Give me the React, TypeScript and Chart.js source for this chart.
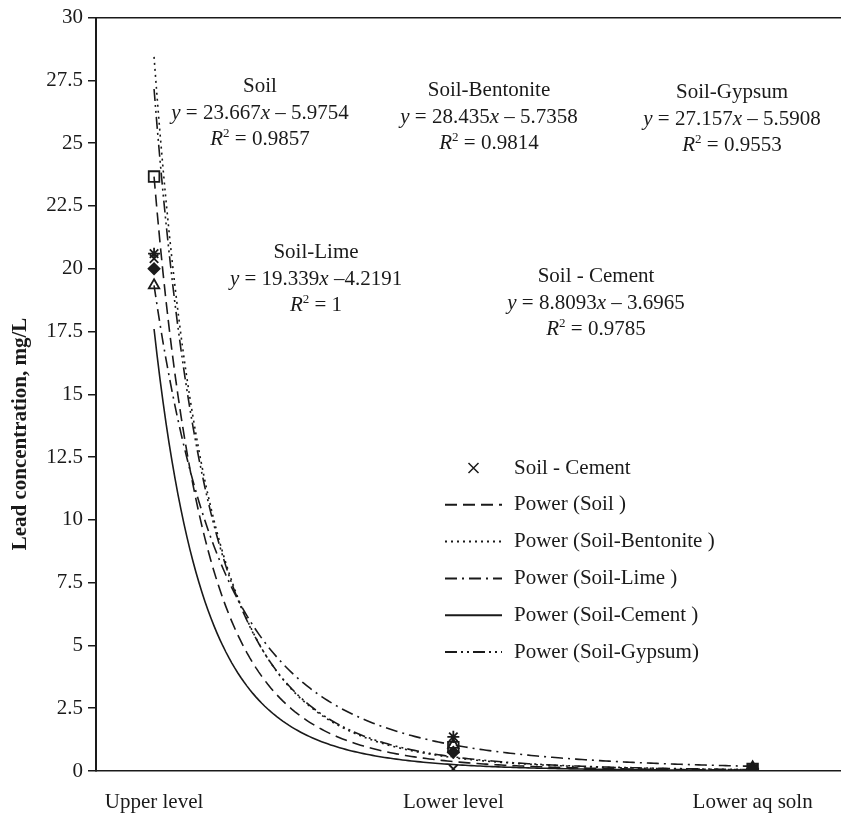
import React, { useEffect, useRef } from 'react';
import { Chart, registerables } from 'chart.js';

Chart.register(...registerables);

// ---- data ----
const categories = ['Upper level', 'Lower level', 'Lower aq soln'];
const soil = [23.67, 0.95, 0.08];
const soilBentonite = [20.0, 0.75, 0.08];
const soilLime = [19.34, 1.04, 0.15];
const soilCement = [20.4, 0.08, 0.06];
const soilGypsum = [20.6, 1.36, 0.1];

const trendNames = ['Power (Soil )', 'Power (Soil-Bentonite )', 'Power (Soil-Lime )', 'Power (Soil-Cement )', 'Power (Soil-Gypsum)'];
const trendCoef = [23.667, 28.435, 19.339, 17.6, 27.157];
const trendExp = [5.9754, 5.7358, 4.2191, 6.1, 5.5908];

const eqTitles = ['Soil', 'Soil-Bentonite', 'Soil-Gypsum', 'Soil-Lime', 'Soil - Cement'];
const eqCoef = ['23.667', '28.435', '27.157', '19.339', '8.8093'];
const eqSep = [' – ', ' – ', ' – ', ' –', ' – '];
const eqExp = ['5.9754', '5.7358', '5.5908', '4.2191', '3.6965'];
const eqR2 = ['0.9857', '0.9814', '0.9553', '1', '0.9785'];

const yMin = 0;
const yMax = 30;
const yStep = 2.5;
const yTitle = 'Lead concentration, mg/L';
const legendMarkerLabel = 'Soil - Cement';

// ---- styles ----
const FONT = '"Liberation Serif", "Times New Roman", serif';
const INK = '#1a1a1a';
const dashes = [[12, 6], [2, 4], [12, 5, 2, 5], [], [12, 4, 2, 4, 2, 4]];
const eqPos = [
  { x: 260, y: 72 },
  { x: 489, y: 76 },
  { x: 732, y: 78 },
  { x: 316, y: 238 },
  { x: 596, y: 262 },
];

const legendPlugin = {
  id: 'customLegend',
  afterDraw(chart: any) {
    const ctx = chart.ctx;
    ctx.save();
    const x0 = 445, x1 = 502, tx = 514;
    let y = 468;
    const row = 36.8;
    ctx.font = `21px ${FONT}`;
    ctx.fillStyle = INK;
    ctx.textBaseline = 'middle';
    ctx.textAlign = 'left';
    ctx.strokeStyle = INK;
    ctx.lineWidth = 1.5;
    const cx = (x0 + x1) / 2;
    ctx.beginPath();
    ctx.moveTo(cx - 5, y - 5); ctx.lineTo(cx + 5, y + 5);
    ctx.moveTo(cx - 5, y + 5); ctx.lineTo(cx + 5, y - 5);
    ctx.stroke();
    ctx.fillText(legendMarkerLabel, tx, y);
    for (let i = 0; i < trendNames.length; i++) {
      y += row;
      ctx.beginPath();
      ctx.setLineDash(dashes[i]);
      ctx.lineWidth = 2;
      ctx.moveTo(x0, y);
      ctx.lineTo(x1, y);
      ctx.stroke();
      ctx.setLineDash([]);
      ctx.fillText(trendNames[i], tx, y);
    }
    ctx.restore();
  },
};

const yTitlePlugin = {
  id: 'yTitle',
  afterDraw(chart: any) {
    const ctx = chart.ctx;
    ctx.save();
    ctx.translate(21, 434);
    ctx.rotate(-Math.PI / 2);
    ctx.font = `bold 21px ${FONT}`;
    ctx.fillStyle = INK;
    ctx.textAlign = 'center';
    ctx.textBaseline = 'middle';
    ctx.fillText(yTitle, 0, 0);
    ctx.restore();
  },
};

function sampleTrend(a: number, b: number) {
  const pts: { x: number; y: number }[] = [];
  for (let i = 0; i <= 200; i++) {
    const x = 1 + (2 * i) / 200;
    pts.push({ x, y: a * Math.pow(x, -b) });
  }
  return pts;
}

export default function App() {
  const ref = useRef<HTMLCanvasElement | null>(null);

  useEffect(() => {
    if (!ref.current) return;
    const toPts = (arr: number[]) => arr.map((v, i) => ({ x: i + 1, y: v }));
    const markerBase = {
      showLine: false,
      borderColor: INK,
      borderWidth: 1.8,
      pointRadius: 7.5,
    };
    const markerSets: any[] = [
      { ...markerBase, label: 'Soil', data: toPts(soil), pointStyle: 'rect', backgroundColor: 'rgba(255,255,255,0)' },
      { ...markerBase, label: 'Soil-Bentonite', data: toPts(soilBentonite), pointStyle: 'rectRot', backgroundColor: INK, pointRadius: 5.5 },
      { ...markerBase, label: 'Soil-Lime', data: toPts(soilLime), pointStyle: 'triangle', backgroundColor: 'rgba(255,255,255,0)', pointRadius: 6 },
      { ...markerBase, label: 'Soil - Cement', data: toPts(soilCement), pointStyle: 'crossRot', backgroundColor: INK, pointRadius: 6 },
      { ...markerBase, label: 'Soil-Gypsum', data: toPts(soilGypsum), pointStyle: 'star', backgroundColor: INK, pointRadius: 6 },
    ];
    const trendSets: any[] = trendNames.map((n, i) => ({
      label: n,
      data: sampleTrend(trendCoef[i], trendExp[i]),
      showLine: true,
      pointRadius: 0,
      borderColor: INK,
      borderWidth: 1.6,
      borderDash: dashes[i],
      tension: 0,
      fill: false,
    }));

    const chart = new Chart(ref.current, {
      type: 'scatter',
      data: { datasets: [...markerSets, ...trendSets] },
      plugins: [legendPlugin, yTitlePlugin],
      options: {
        animation: false,
        responsive: false,
        layout: { padding: { top: 15, right: 0, left: 0, bottom: 0 } },
        plugins: { legend: { display: false }, tooltip: { enabled: false } },
        scales: {
          x: {
            type: 'linear',
            min: 1 - 58 / 299,
            max: 3 + 89 / 299,
            afterBuildTicks: (s: any) => {
              s.ticks = categories.map((_, i) => ({ value: i + 1 }));
            },
            afterFit: (s: any) => {
              s.height = 47;
              s.paddingLeft = 0;
              s.paddingRight = 0;
            },
            ticks: {
              callback: (v: any) => categories[Math.round(v) - 1] ?? '',
              font: { family: FONT, size: 21 },
              color: INK,
              padding: 19,
              maxRotation: 0,
              autoSkip: false,
            },
            grid: { display: true, drawOnChartArea: false, drawTicks: false },
            border: { color: INK, width: 1.5 },
          },
          y: {
            min: yMin,
            max: yMax,
            afterFit: (s: any) => {
              s.width = 96;
            },
            ticks: {
              stepSize: yStep,
              font: { family: FONT, size: 21 },
              color: INK,
              padding: 5,
            },
            grid: {
              color: (c: any) => (c.tick && c.tick.value === yMax ? INK : 'rgba(0,0,0,0)'),
              tickColor: INK,
              tickLength: 8,
              lineWidth: 1.5,
            },
            border: { color: INK, width: 2 },
          },
        },
      },
    });
    return () => chart.destroy();
  }, []);

  const supStyle: React.CSSProperties = { fontSize: 13, position: 'relative', top: -8 };
  return (
    <div style={{ position: 'absolute', left: 0, top: 0, width: 841, height: 818, background: '#fff', overflow: 'hidden' }}>
      <canvas ref={ref} width={851} height={818} style={{ display: 'block' }} />
      {eqTitles.map((t, i) => (
        <div
          key={t}
          style={{
            position: 'absolute',
            left: eqPos[i].x,
            top: eqPos[i].y,
            transform: 'translateX(-50%)',
            fontFamily: FONT,
            fontSize: 21,
            lineHeight: '26.5px',
            color: INK,
            textAlign: 'center',
            whiteSpace: 'nowrap',
          }}
        >
          <div>{t}</div>
          <div>
            <i>y</i> = {eqCoef[i]}
            <i>x</i>
            {eqSep[i]}
            {eqExp[i]}
          </div>
          <div>
            <i>R</i>
            <span style={supStyle}>2</span> = {eqR2[i]}
          </div>
        </div>
      ))}
    </div>
  );
}
